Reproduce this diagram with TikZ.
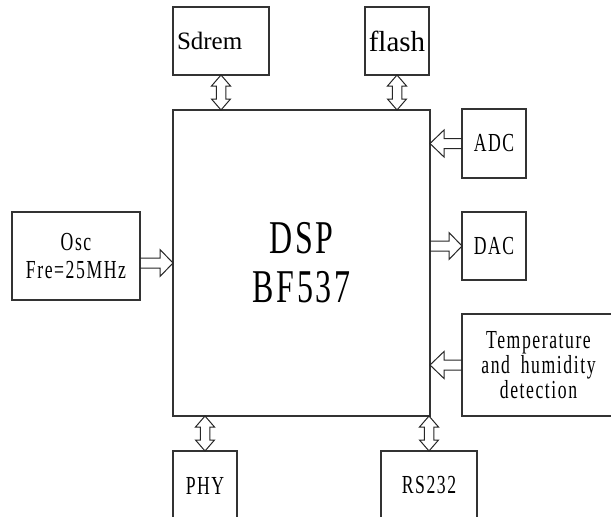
\documentclass[tikz,border=0pt]{standalone}
\usepackage{fontspec}
\setmainfont{Liberation Serif}
\newfontfamily\boxfont[FakeStretch=0.68,LetterSpace=6,WordSpace=1.8]{Liberation Serif}
\usetikzlibrary{calc}
\tikzset{
  block/.style={draw=black!80, line width=1.1pt, inner sep=0pt, outer sep=0pt, align=center},
  arrowline/.style={draw=black!85, line width=1pt, line join=miter}
}
% fat hollow arrow: tail, tip, head offset (back from tip)
\newcommand{\fatarrow}[3]{%
\draw[arrowline] ($(#1)+(0,-5)$) -- ($(#2)+(#3,-5)$) -- ($(#2)+(#3,-13.5)$) -- (#2)
  -- ($(#2)+(#3,13.5)$) -- ($(#2)+(#3,5)$) -- ($(#1)+(0,5)$);}
% fat hollow double arrow: upper tip, lower tip
\newcommand{\dblarrow}[2]{%
\draw[arrowline] (#1) -- ($(#1)+(9.5,11)$) -- ($(#1)+(4.75,11)$) -- ($(#2)+(4.75,-11)$)
  -- ($(#2)+(9.5,-11)$) -- (#2) -- ($(#2)+(-9.5,-11)$) -- ($(#2)+(-4.75,-11)$)
  -- ($(#1)+(-4.75,11)$) -- ($(#1)+(-9.5,11)$) -- cycle;}
\begin{document}
\begin{tikzpicture}[x=1pt,y=-1pt]
\useasboundingbox (0,0) rectangle (611,517);
%%%% blocks
\node[block, minimum width=257, minimum height=306, font=\boxfont\fontsize{47}{49}\selectfont] (dsp) at (301.5,263) {DSP\\BF537};
\node[block, minimum width=96, minimum height=68, text width=88, align=left, font=\fontsize{25}{28}\selectfont] (sdrem) at (221,41) {\raisebox{-3pt}{Sdrem}};
\node[block, minimum width=64, minimum height=68, font=\fontsize{29}{30}\selectfont] (flash) at (397,41) {flash};
\node[block, minimum width=128, minimum height=88, font=\boxfont\fontsize{26}{28}\selectfont] (osc) at (76,256) {Osc\\Fre=25MHz};
\node[block, minimum width=64, minimum height=69, font=\boxfont\fontsize{26}{23}\selectfont] (adc) at (494,143.5) {ADC};
\node[block, minimum width=64, minimum height=68, font=\boxfont\fontsize{26}{23}\selectfont] (dac) at (494,246) {DAC};
\node[block, minimum width=153, minimum height=102, font=\boxfont\fontsize{26}{23}\selectfont] (temp) at (538.5,365) {Temperature\\and humidity\\detection};
\node[block, minimum width=64, minimum height=69, font=\boxfont\fontsize{26}{23}\selectfont] (phy) at (205,485.5) {PHY};
\node[block, minimum width=96, minimum height=69, font=\boxfont\fontsize{26}{23}\selectfont] (rs) at (429,485.5) {RS232};
%%%% arrow ends on the DSP border
\coordinate (sdremtip) at (sdrem.south |- dsp.north);
\coordinate (flashtip) at (flash.south |- dsp.north);
\coordinate (phytip) at (phy.north |- dsp.south);
\coordinate (rstip) at (rs.north |- dsp.south);
\coordinate (osctail) at (osc.east |- dsp.west);
\coordinate (adctip) at (dsp.east |- adc.west);
\coordinate (dactail) at (dsp.east |- dac.west);
\coordinate (temptip) at (dsp.east |- temp.west);
%%%% arrows
\dblarrow{sdrem.south}{sdremtip}
\dblarrow{flash.south}{flashtip}
\dblarrow{phytip}{phy.north}
\dblarrow{rstip}{rs.north}
\fatarrow{osctail}{dsp.west}{-13}
\fatarrow{adc.west}{adctip}{14}
\fatarrow{dactail}{dac.west}{-13}
\fatarrow{temp.west}{temptip}{14}
\end{tikzpicture}
\end{document}
